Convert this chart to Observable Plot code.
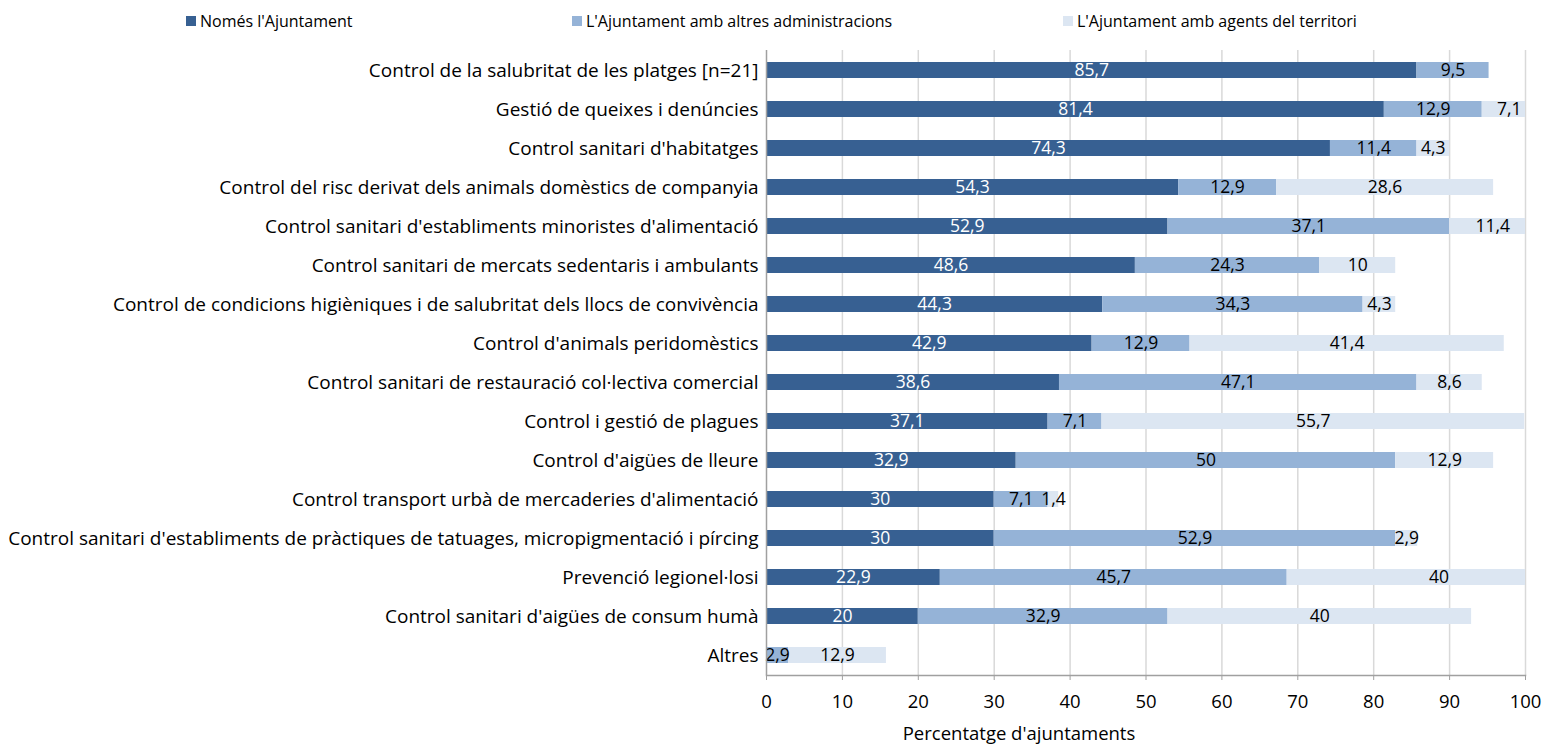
<!DOCTYPE html>
<html>
<head>
<meta charset="utf-8">
<script src="https://cdn.jsdelivr.net/npm/d3@7"></script>
<script src="https://cdn.jsdelivr.net/npm/@observablehq/plot@0.6"></script>
<style>
  html, body { margin: 0; padding: 0; background: #fff; }
  body { width: 1543px; height: 746px; overflow: hidden; font-family: "Open Sans", sans-serif; }
  #legend { position: relative; height: 40px; font-size: 16px; color: #000; }
  #legend .item { position: absolute; top: 10px; display: flex; align-items: center; white-space: nowrap; }
  #legend .swatch { width: 10px; height: 10px; margin-right: 4px; }
</style>
</head>
<body>
<div id="legend"></div>
<div id="chart"></div>
<script>
// Serveis i categories (de dalt a baix)
const categories = [
  "Control de la salubritat de les platges [n=21]",
  "Gestió de queixes i denúncies",
  "Control sanitari d'habitatges",
  "Control del risc derivat dels animals domèstics de companyia",
  "Control sanitari d'establiments minoristes d'alimentació",
  "Control sanitari de mercats sedentaris i ambulants",
  "Control de condicions higièniques i de salubritat dels llocs de convivència",
  "Control d'animals peridomèstics",
  "Control sanitari de restauració col·lectiva comercial",
  "Control i gestió de plagues",
  "Control d'aigües de lleure",
  "Control transport urbà de mercaderies d'alimentació",
  "Control sanitari d'establiments de pràctiques de tatuages, micropigmentació i pírcing",
  "Prevenció legionel·losi",
  "Control sanitari d'aigües de consum humà",
  "Altres"
];

const seriesNames = [
  "Només l'Ajuntament",
  "L'Ajuntament amb altres administracions",
  "L'Ajuntament amb agents del territori"
];

const nomesAjuntament    = [85.7, 81.4, 74.3, 54.3, 52.9, 48.6, 44.3, 42.9, 38.6, 37.1, 32.9, 30, 30, 22.9, 20, 0];
const ambAdministracions = [9.5, 12.9, 11.4, 12.9, 37.1, 24.3, 34.3, 12.9, 47.1, 7.1, 50, 7.1, 52.9, 45.7, 32.9, 2.9];
const ambAgents          = [0, 7.1, 4.3, 28.6, 11.4, 10, 4.3, 41.4, 8.6, 55.7, 12.9, 1.4, 2.9, 40, 40, 12.9];

const xTicks = [0, 10, 20, 30, 40, 50, 60, 70, 80, 90, 100];
const colors = ["#376092", "#95b3d7", "#dce6f2"];

// Taula apilada: cada segment comença on acaba l'anterior
const seriesValues = [nomesAjuntament, ambAdministracions, ambAgents];
const rows = [];
categories.forEach((cat, i) => {
  let acc = 0;
  seriesValues.forEach((vals, s) => {
    const v = vals[i];
    rows.push({cat, serie: seriesNames[s], s, value: v, x1: acc, x2: acc + v, mid: acc + v / 2});
    acc += v;
  });
});

const fmt = v => String(v).replace(".", ",");

// Llegenda
const legend = document.getElementById("legend");
const legendX = [186, 572, 1063];
seriesNames.forEach((name, i) => {
  const item = document.createElement("div");
  item.className = "item";
  item.style.left = legendX[i] + "px";
  const sw = document.createElement("span");
  sw.className = "swatch";
  sw.style.background = colors[i];
  const tx = document.createElement("span");
  tx.textContent = name;
  item.append(sw, tx);
  legend.append(item);
});

const chart = Plot.plot({
  width: 1543,
  height: 706,
  marginLeft: 766,
  marginRight: 18,
  marginTop: 10,
  marginBottom: 71,
  style: {fontFamily: "Open Sans, sans-serif", fontSize: "18px", color: "#000", background: "#fff"},
  x: {domain: [0, 100]},
  y: {domain: categories, paddingInner: 0.6, paddingOuter: 0.3, align: 0.5},
  color: {domain: seriesNames, range: colors},
  marks: [
    Plot.gridX(xTicks.filter(d => d > 0), {stroke: "#d9d9d9", strokeOpacity: 1, strokeWidth: 1.5}),
    Plot.barX(rows, {x1: "x1", x2: "x2", y: "cat", fill: "serie", clip: true, inset: 0}),
    Plot.text(rows, {
      filter: d => d.value > 0 && d.s === 0,
      x: "mid", y: "cat", text: d => fmt(d.value),
      fill: "#fff", fontSize: 17.5
    }),
    Plot.text(rows, {
      filter: d => d.value > 0 && d.s > 0,
      x: "mid", y: "cat", text: d => fmt(d.value),
      fill: "#000", fontSize: 17.5
    }),
    Plot.ruleX([0], {stroke: "#a0a0a0", strokeWidth: 1.5}),
    Plot.frame({anchor: "bottom", stroke: "#a0a0a0", strokeWidth: 1.5}),
    Plot.axisX(xTicks, {
      anchor: "bottom", tickSize: 5, tickPadding: 14, stroke: "#a0a0a0",
      tickFormat: d => String(d), label: null, fontSize: 18.5
    }),
    Plot.axisY({anchor: "left", tickSize: 0, tickPadding: 8, label: null, fontSize: 19}),
    Plot.text(["Percentatge d'ajuntaments"], {
      frameAnchor: "bottom", dx: -127, dy: 64, fontSize: 18.5, fill: "#000"
    })
  ]
});
document.getElementById("chart").append(chart);
</script>
</body>
</html>
